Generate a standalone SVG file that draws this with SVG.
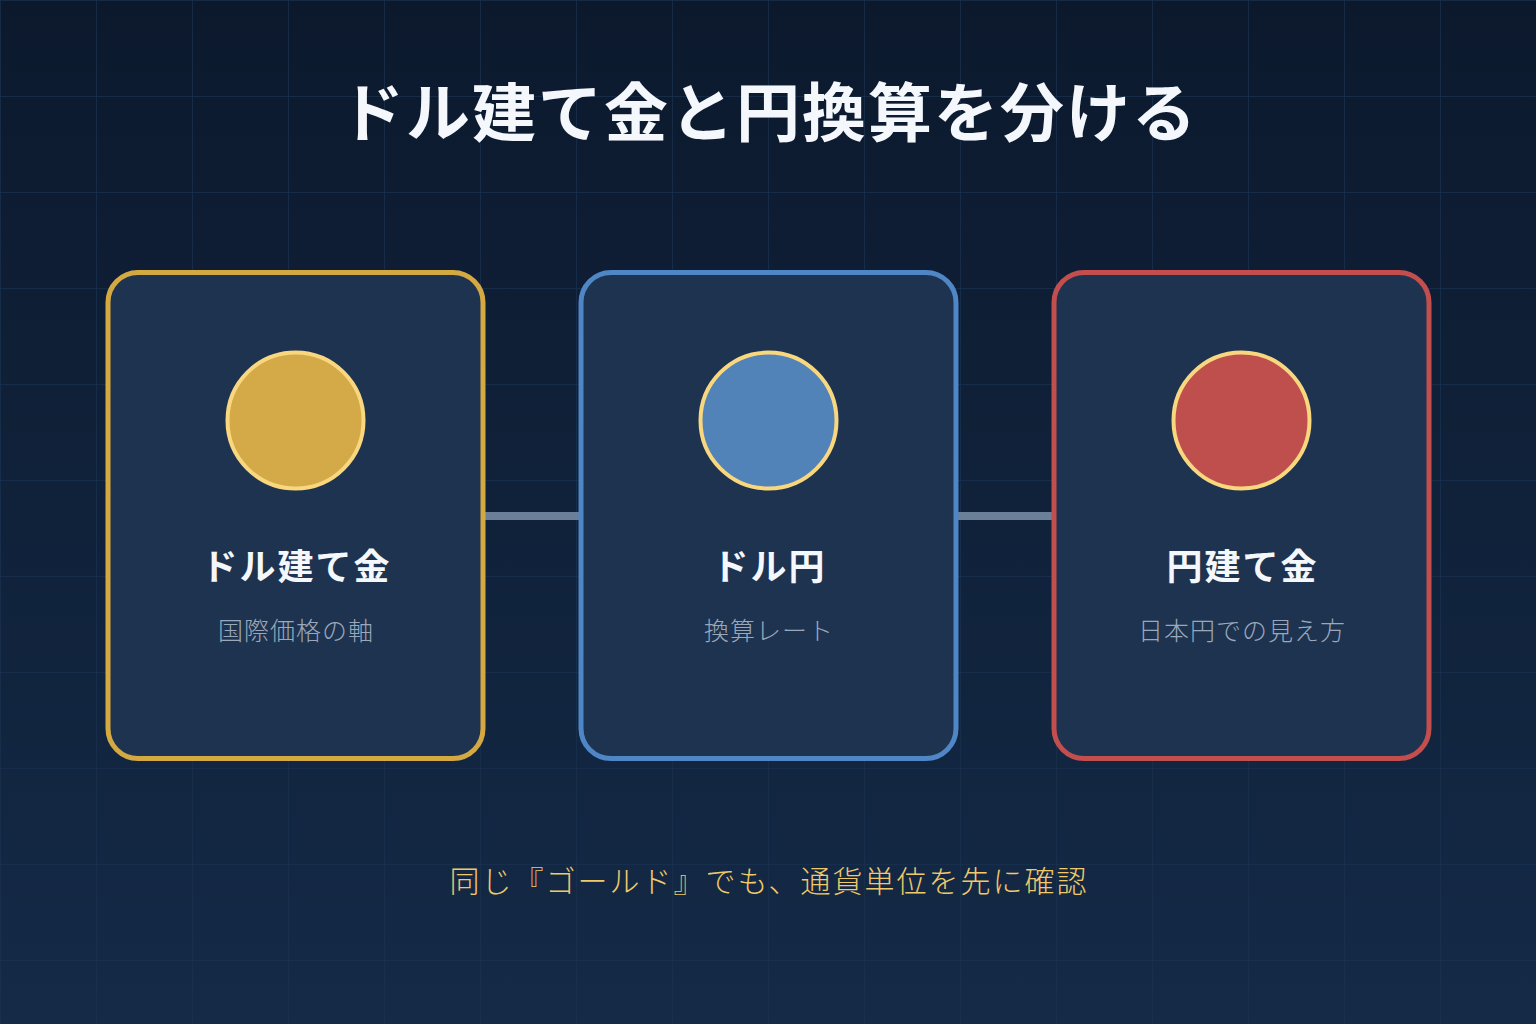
<svg xmlns="http://www.w3.org/2000/svg" width="1536" height="1024" viewBox="0 0 1536 1024">
<defs>
<linearGradient id="bg" x1="0" y1="0" x2="0" y2="1">
<stop offset="0" stop-color="#0c192d"/>
<stop offset="1" stop-color="#142a47"/>
</linearGradient>
<pattern id="grid" width="96" height="96" patternUnits="userSpaceOnUse">
<path d="M0 0.5H96M0.5 0V96" fill="none" stroke="#1a3250" stroke-opacity="0.7" stroke-width="1"/>
</pattern>
</defs>
<style>
.card{fill:#1e3350;stroke-width:5}
.dot{stroke:#f9d77e;stroke-width:4}
.t{font-family:"Noto Sans CJK JP","Noto Sans",sans-serif;text-anchor:middle}
.h{font-size:36px;font-weight:bold;fill:#f4f7fb;letter-spacing:2px}
.s{font-size:25px;font-weight:300;fill:#9aa8bb;letter-spacing:1px}
.conn{stroke:#6b7f99;stroke-width:8}
</style>
<rect width="1536" height="1024" fill="url(#bg)"/>
<rect width="1536" height="1024" fill="url(#grid)"/>
<text class="t" x="769" y="136" font-size="64" font-weight="bold" fill="#f4f7fb" letter-spacing="2">ドル建て金と円換算を分ける</text>
<g id="connectors">
<line class="conn" x1="485" y1="516" x2="579" y2="516"/>
<line class="conn" x1="958" y1="516" x2="1052" y2="516"/>
</g>
<g id="node-dollar-gold">
<rect class="card" x="108" y="272.5" width="375" height="486" rx="30" stroke="#d4a942"/>
<circle class="dot" cx="295.5" cy="420.5" r="68" fill="#d4a947"/>
<text class="t h" x="296.5" y="580">ドル建て金</text>
<text class="t s" x="296" y="640">国際価格の軸</text>
</g>
<g id="node-usdjpy">
<rect class="card" x="581" y="272.5" width="375" height="486" rx="30" stroke="#4f86c6"/>
<circle class="dot" cx="768.5" cy="420.5" r="68" fill="#5283b8"/>
<text class="t h" x="769.5" y="580">ドル円</text>
<text class="t s" x="769" y="640">換算レート</text>
</g>
<g id="node-yen-gold">
<rect class="card" x="1054" y="272.5" width="375" height="486" rx="30" stroke="#c24e4e"/>
<circle class="dot" cx="1241.5" cy="420.5" r="68" fill="#bf4f4d"/>
<text class="t h" x="1242.5" y="580">円建て金</text>
<text class="t s" x="1242" y="640">日本円での見え方</text>
</g>
<text class="t" x="769" y="892" font-size="30" font-weight="300" fill="#f0c96a" letter-spacing="2">同じ『ゴールド』でも、通貨単位を先に確認</text>
</svg>
